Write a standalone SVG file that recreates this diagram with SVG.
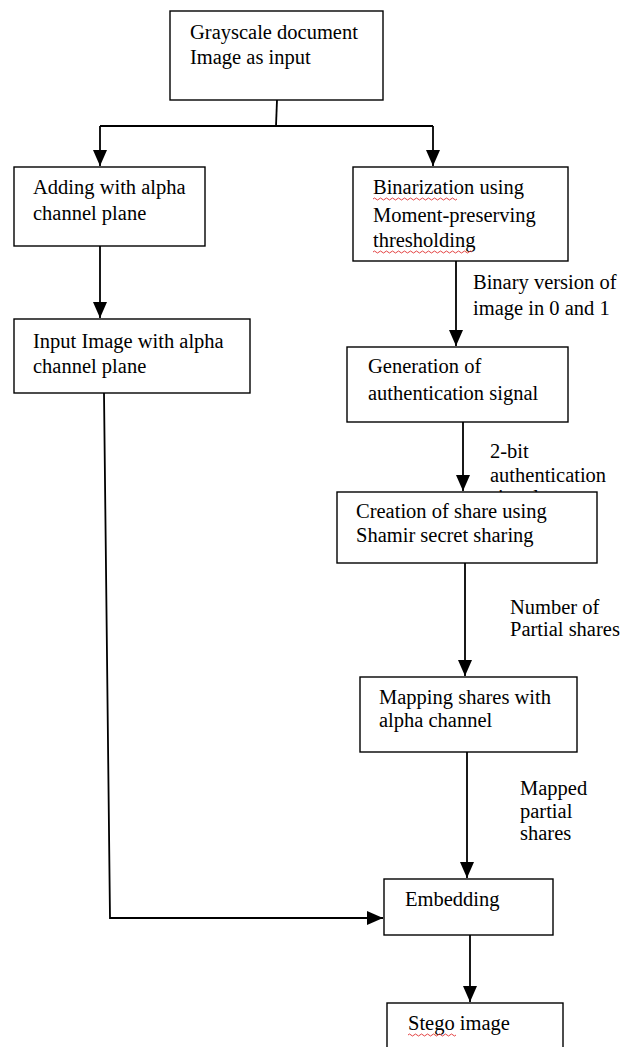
<svg xmlns="http://www.w3.org/2000/svg" width="629" height="1047" viewBox="0 0 629 1047">
<defs>
<marker id="ah" markerUnits="userSpaceOnUse" markerWidth="16" markerHeight="14" refX="16" refY="7" orient="auto">
<path d="M0,0 L16,7 L0,14 z" fill="#000"/>
</marker>
<style>
.box{fill:#fff;stroke:#000;stroke-width:1.4}
.t{font-family:"Liberation Serif","Times New Roman",serif;font-size:20.5px;fill:#000}
.c{fill:none;stroke:#000;stroke-width:1.8}
.sq{fill:none;stroke:#e03030;stroke-width:0.9}
</style>
</defs>
<rect width="629" height="1047" fill="#fff"/>

<g id="connectors">
<path class="c" d="M277,100 L276,126"/>
<path class="c" d="M100,126 L433,126"/>
<path class="c" d="M100,126 L100,166" marker-end="url(#ah)"/>
<path class="c" d="M433,126 L433,166" marker-end="url(#ah)"/>
<path class="c" d="M100,246 L100,318" marker-end="url(#ah)"/>
<path class="c" d="M456,261 L456,346" marker-end="url(#ah)"/>
<path class="c" d="M463,422 L463,491" marker-end="url(#ah)"/>
<path class="c" d="M465,563 L465,676" marker-end="url(#ah)"/>
<path class="c" d="M467,752 L467,878" marker-end="url(#ah)"/>
<path class="c" d="M104,393 L110,918 L383,918" marker-end="url(#ah)"/>
<path class="c" d="M470,935 L470,1002" marker-end="url(#ah)"/>
</g>

<g id="labels">
<text class="t" x="473" y="289">Binary version of</text>
<text class="t" x="473" y="315">image in 0 and 1</text>
<text class="t" x="490" y="458">2-bit</text>
<text class="t" x="490" y="482">authentication</text>
<text class="t" x="490" y="504">signal</text>
<text class="t" x="510" y="614">Number of</text>
<text class="t" x="510" y="636">Partial shares</text>
<text class="t" x="520" y="795">Mapped</text>
<text class="t" x="520" y="818">partial</text>
<text class="t" x="520" y="840">shares</text>
</g>

<g id="n-input">
<rect class="box" x="170" y="11" width="213" height="89"/>
<text class="t" x="190" y="39">Grayscale document</text>
<text class="t" x="190" y="64">Image as input</text>
</g>

<g id="n-adding">
<rect class="box" x="14" y="167" width="191" height="79"/>
<text class="t" x="33" y="194">Adding with alpha</text>
<text class="t" x="33" y="220">channel plane</text>
</g>

<g id="n-inputalpha">
<rect class="box" x="14" y="319" width="236" height="74"/>
<text class="t" x="33" y="348">Input Image with alpha</text>
<text class="t" x="33" y="373">channel plane</text>
</g>

<g id="n-binarization">
<rect class="box" x="353" y="167" width="215" height="94"/>
<text class="t" x="373" y="194">Binarization using</text>
<text class="t" x="373" y="222">Moment-preserving</text>
<text class="t" x="373" y="247">thresholding</text>
<path class="sq" d="M373,199 q1.5,-2 3,0 t3,0 t3,0 t3,0 t3,0 t3,0 t3,0 t3,0 t3,0 t3,0 t3,0 t3,0 t3,0 t3,0 t3,0 t3,0 t3,0 t3,0 t3,0 t3,0 t3,0 t3,0 t3,0 t3,0 t3,0 t3,0 t3,0 t3,0"/>
<path class="sq" d="M373,252 q1.5,-2 3,0 t3,0 t3,0 t3,0 t3,0 t3,0 t3,0 t3,0 t3,0 t3,0 t3,0 t3,0 t3,0 t3,0 t3,0 t3,0 t3,0 t3,0 t3,0 t3,0 t3,0 t3,0 t3,0 t3,0 t3,0 t3,0 t3,0 t3,0 t3,0 t3,0 t3,0 t3,0 t3,0"/>
</g>

<g id="n-generation">
<rect class="box" x="347" y="347" width="221" height="75"/>
<text class="t" x="368" y="373">Generation of</text>
<text class="t" x="368" y="400">authentication signal</text>
</g>

<g id="n-creation">
<rect class="box" x="337" y="492" width="260" height="71"/>
<text class="t" x="356" y="518">Creation of share using</text>
<text class="t" x="356" y="542">Shamir secret sharing</text>
</g>

<g id="n-mapping">
<rect class="box" x="360" y="677" width="217" height="75"/>
<text class="t" x="379" y="704">Mapping shares with</text>
<text class="t" x="379" y="727">alpha channel</text>
</g>

<g id="n-embedding">
<rect class="box" x="384" y="879" width="169" height="56"/>
<text class="t" x="405" y="906">Embedding</text>
</g>

<g id="n-stego">
<rect class="box" x="387" y="1003" width="176" height="60"/>
<text class="t" x="408" y="1030">Stego image</text>
<path class="sq" d="M408,1035 q1.5,-2 3,0 t3,0 t3,0 t3,0 t3,0 t3,0 t3,0 t3,0 t3,0 t3,0 t3,0 t3,0 t3,0 t3,0 t3,0 t3,0"/>
</g>
</svg>
